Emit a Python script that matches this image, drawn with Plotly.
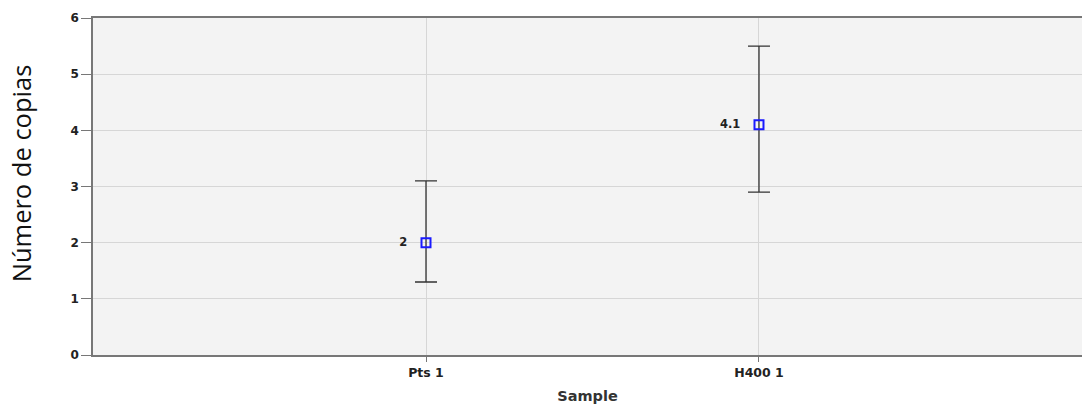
import plotly.graph_objects as go

categories = ["Pts 1", "H400 1"]
x_pos = [1, 2]
values = [2.0, 4.1]
upper = [3.1, 5.5]
lower = [1.3, 2.9]
labels = ["2", "4.1"]

err_plus = [u - v for u, v in zip(upper, values)]
err_minus = [v - l for v, l in zip(values, lower)]

TICKFONT = "DejaVu Sans, Verdana, sans-serif"

fig = go.Figure()
fig.add_trace(go.Scatter(
    x=x_pos, y=values, mode="markers+text",
    text=[t + "   " for t in labels], textposition="middle left",
    textfont=dict(family=TICKFONT, size=11.5, color="#222222", weight="bold"),
    marker=dict(symbol="square-open", size=9, color="#1a1aff", line=dict(width=2, color="#1a1aff")),
    error_y=dict(type="data", symmetric=False, array=err_plus, arrayminus=err_minus,
                 color="#333333", thickness=1.3, width=11),
    showlegend=False, cliponaxis=False,
))

fig.update_layout(
    width=1082, height=406,
    margin=dict(l=93, r=0, t=18, b=51),
    paper_bgcolor="white", plot_bgcolor="#f3f3f3",
    font=dict(family=TICKFONT, color="#222222"),
    xaxis=dict(
        range=[0, 2.97], tickvals=x_pos, ticktext=categories,
        showgrid=True, gridcolor="#d6d6d6", gridwidth=1,
        showline=True, linecolor="#777777", linewidth=1.5, mirror=True,
        ticks="outside", ticklen=5, tickcolor="#777777",
        tickfont=dict(family=TICKFONT, size=12.5, color="#222222", weight="bold"),
        title=dict(text="Sample", font=dict(family=TICKFONT, size=14.5, color="#333333", weight="bold"), standoff=12),
        zeroline=False,
    ),
    yaxis=dict(
        range=[0, 6], dtick=1,
        showgrid=True, gridcolor="#d6d6d6", gridwidth=1,
        showline=True, linecolor="#777777", linewidth=1.5,
        ticks="outside", ticklen=10, tickcolor="#777777",
        tickfont=dict(family=TICKFONT, size=12, color="#222222", weight="bold"),
        zeroline=False,
    ),
    annotations=[dict(
        text="Número de copias", xref="paper", yref="paper",
        x=-0.0725, y=0.54, xanchor="center", yanchor="middle",
        textangle=-90, showarrow=False,
        font=dict(size=25.5, color="#111111", family="Open Sans, Arial, sans-serif"),
    )],
)

fig.write_html("out.html", config={"displayModeBar": False},
               post_script="document.body.style.margin='0';document.body.style.overflow='hidden';")
